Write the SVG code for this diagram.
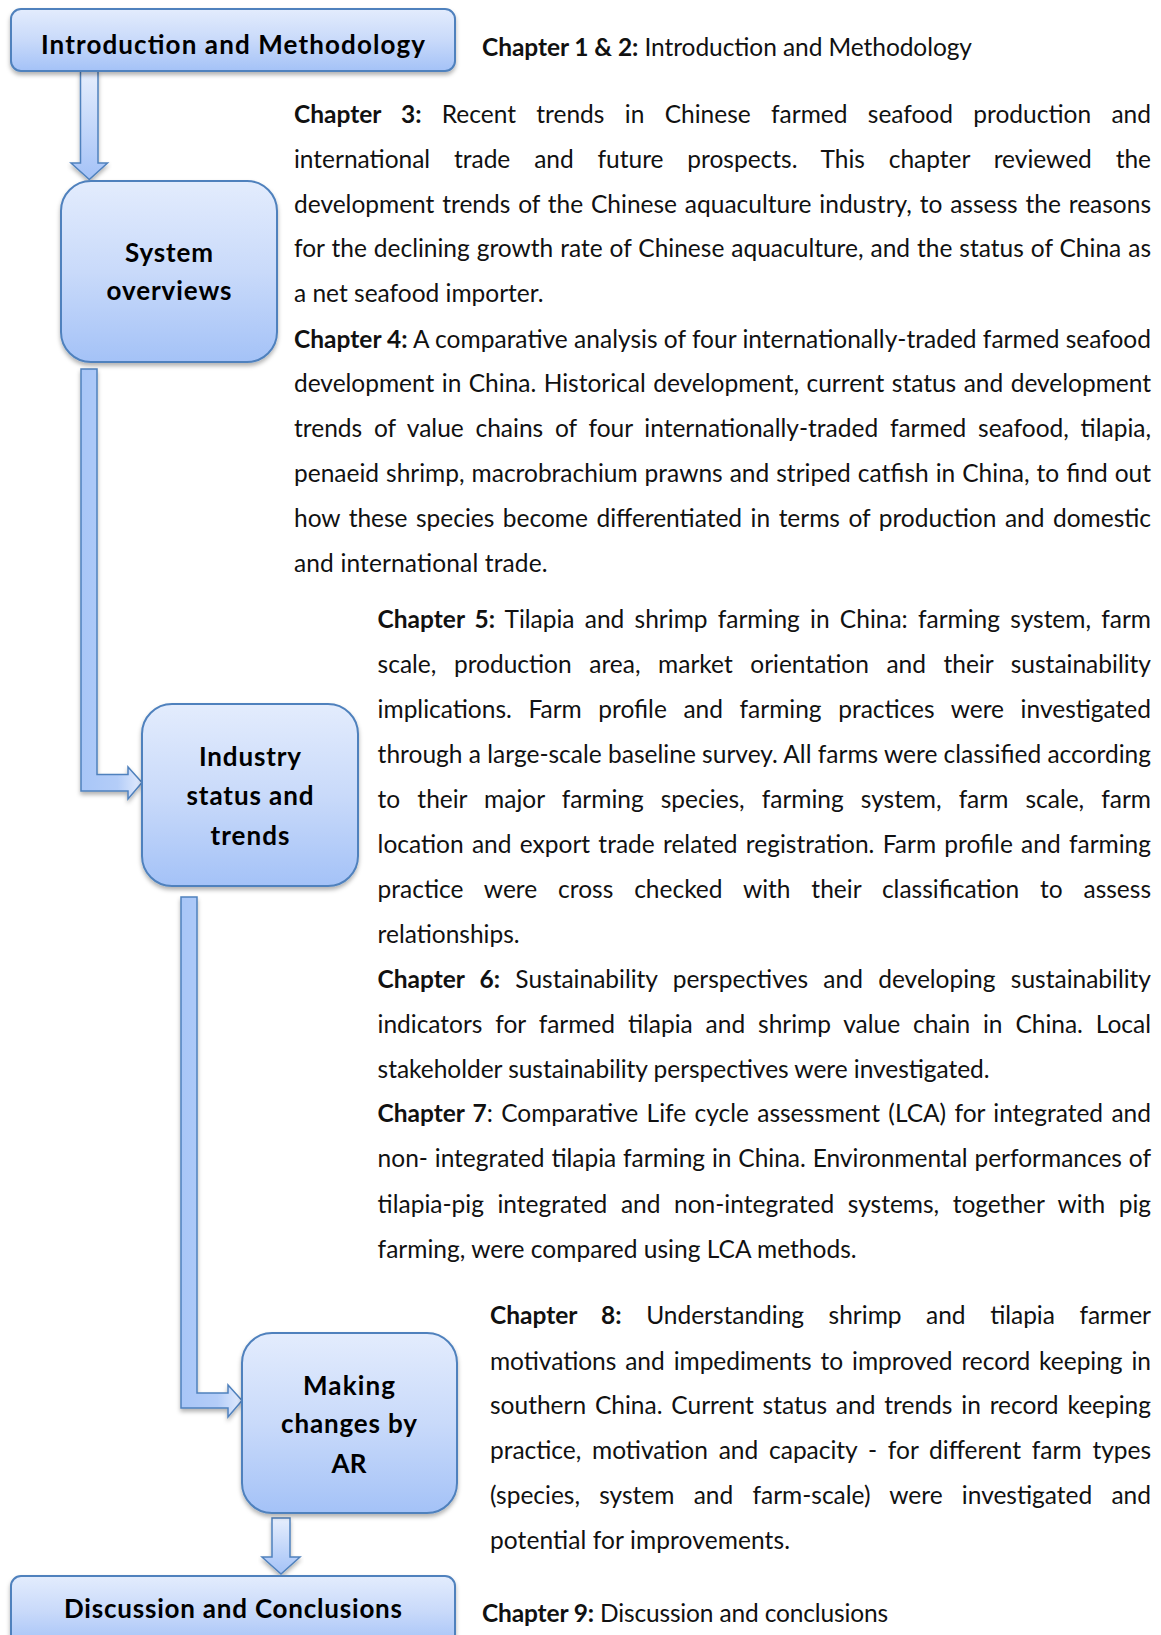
<svg xmlns="http://www.w3.org/2000/svg" width="1161" height="1635" viewBox="0 0 1161 1635">
<defs>
<linearGradient id="boxGrad" x1="0" y1="0" x2="0" y2="1">
<stop offset="0" stop-color="#e3ecfd"/>
<stop offset="0.5" stop-color="#c9dafa"/>
<stop offset="1" stop-color="#a4c2f7"/>
</linearGradient>
<linearGradient id="downGrad" x1="0" y1="0" x2="0" y2="1">
<stop offset="0" stop-color="#e6eefd"/>
<stop offset="1" stop-color="#a4c2f7"/>
</linearGradient>
<linearGradient id="elbowGrad" x1="0" y1="0" x2="1" y2="0">
<stop offset="0" stop-color="#a8c6f8"/>
<stop offset="0.6" stop-color="#b4cdf8"/>
<stop offset="1" stop-color="#e3ecfd"/>
</linearGradient>
<filter id="shadow" x="-10%" y="-10%" width="120%" height="130%">
<feDropShadow dx="0" dy="3" stdDeviation="2" flood-color="#000" flood-opacity="0.3"/>
</filter>
</defs>
<style>
.box{fill:url(#boxGrad);stroke:#4f81bd;stroke-width:2;filter:url(#shadow)}
.arrowD{fill:url(#downGrad);stroke:#4f81bd;stroke-width:1.5;stroke-linejoin:miter;filter:url(#shadow)}
.arrowE{fill:url(#elbowGrad);stroke:#4f81bd;stroke-width:1.5;stroke-linejoin:miter;filter:url(#shadow)}
.lbl{font-family:Lato,"Open Sans","Liberation Sans",sans-serif;font-weight:bold;font-size:26px;fill:#000;text-anchor:middle}
.body{font-family:Lato,"Open Sans","Liberation Sans",sans-serif;font-size:24.5px;fill:#111}
.b{font-weight:bold}
</style>
<g id="connectors">
<path class="arrowD" d="M80.5,71 H98 V163 H107.5 L89.3,179.5 L71,163 H80.5 Z"/>
<path class="arrowE" d="M81,369 H97 V774.5 H128 V767 L142,782.5 L128,799 V791 H81 Z"/>
<path class="arrowE" d="M181,897 H197 V1393 H228 V1385 L242,1400.5 L228,1417 V1408 H181 Z"/>
<path class="arrowD" d="M272,1518 H290 V1557 H300 L281,1574 L262,1557 H272 Z"/>
</g>
<g id="node-intro">
<rect class="box" x="11" y="9" width="444" height="62" rx="10"/>
<text class="lbl" x="233" y="54" textLength="384">Introduction and Methodology</text>
</g>
<g id="node-system">
<rect class="box" x="61" y="181" width="216" height="181" rx="30"/>
<text class="lbl" x="169" y="262" textLength="88">System</text>
<text class="lbl" x="169" y="300" textLength="125">overviews</text>
</g>
<g id="node-industry">
<rect class="box" x="142" y="704" width="216" height="182" rx="30"/>
<text class="lbl" x="250" y="766" textLength="102">Industry</text>
<text class="lbl" x="250" y="805" textLength="127">status and</text>
<text class="lbl" x="250" y="845" textLength="79">trends</text>
</g>
<g id="node-making">
<rect class="box" x="242" y="1333" width="215" height="180" rx="30"/>
<text class="lbl" x="349" y="1395" textLength="92">Making</text>
<text class="lbl" x="349" y="1433" textLength="136">changes by</text>
<text class="lbl" x="349" y="1473" textLength="35">AR</text>
</g>
<g id="node-discussion">
<rect class="box" x="11" y="1576" width="444" height="70" rx="10"/>
<text class="lbl" x="233" y="1618" textLength="338">Discussion and Conclusions</text>
</g>
<g id="chapter-texts">
<text class="body" x="482" y="56" textLength="490"><tspan class="b">Chapter 1 &amp; 2:</tspan> Introduction and Methodology</text>

<text class="body" x="294" y="123" word-spacing="14.1" textLength="857"><tspan class="b">Chapter 3:</tspan> Recent trends in Chinese farmed seafood production and</text>
<text class="body" x="294" y="167.5" word-spacing="17.6" textLength="857">international trade and future prospects. This chapter reviewed the</text>
<text class="body" x="294" y="212.5" word-spacing="1.6" textLength="857">development trends of the Chinese aquaculture industry, to assess the reasons</text>
<text class="body" x="294" y="257" word-spacing="0.7" textLength="857">for the declining growth rate of Chinese aquaculture, and the status of China as</text>
<text class="body" x="294" y="301.5" textLength="249.5">a net seafood importer.</text>

<text class="body" x="294" y="347.5" textLength="857"><tspan class="b">Chapter 4:</tspan> A comparative analysis of four internationally-traded farmed seafood</text>
<text class="body" x="294" y="392.3" word-spacing="1.2" textLength="857">development in China. Historical development, current status and development</text>
<text class="body" x="294" y="437" word-spacing="5.5" textLength="857">trends of value chains of four internationally-traded farmed seafood, tilapia,</text>
<text class="body" x="294" y="482" word-spacing="0.75" textLength="857">penaeid shrimp, macrobrachium prawns and striped catfish in China, to find out</text>
<text class="body" x="294" y="526.8" word-spacing="2.3" textLength="857">how these species become differentiated in terms of production and domestic</text>
<text class="body" x="294" y="571.6" textLength="253.6">and international trade.</text>

<text class="body" x="377.6" y="628" word-spacing="4" textLength="773.4"><tspan class="b">Chapter 5:</tspan> Tilapia and shrimp farming in China: farming system, farm</text>
<text class="body" x="377.6" y="672.8" word-spacing="11.3" textLength="773.4">scale, production area, market orientation and their sustainability</text>
<text class="body" x="377.6" y="717.7" word-spacing="10.3" textLength="773.4">implications. Farm profile and farming practices were investigated</text>
<text class="body" x="377.6" y="762.5" textLength="773.4">through a large-scale baseline survey. All farms were classified according</text>
<text class="body" x="377.6" y="808.4" word-spacing="10.9" textLength="773.4">to their major farming species, farming system, farm scale, farm</text>
<text class="body" x="377.6" y="853.3" word-spacing="2" textLength="773.4">location and export trade related registration. Farm profile and farming</text>
<text class="body" x="377.6" y="898.1" word-spacing="14.6" textLength="773.4">practice were cross checked with their classification to assess</text>
<text class="body" x="377.6" y="943" textLength="142">relationships.</text>

<text class="body" x="377.6" y="987.8" word-spacing="9.1" textLength="773.4"><tspan class="b">Chapter 6:</tspan> Sustainability perspectives and developing sustainability</text>
<text class="body" x="377.6" y="1032.7" word-spacing="6.7" textLength="773.4">indicators for farmed tilapia and shrimp value chain in China. Local</text>
<text class="body" x="377.6" y="1077.5" textLength="612">stakeholder sustainability perspectives were investigated.</text>

<text class="body" x="377.6" y="1122.4" word-spacing="2.1" textLength="773.4"><tspan class="b">Chapter 7</tspan>: Comparative Life cycle assessment (LCA) for integrated and</text>
<text class="body" x="377.6" y="1167.2" word-spacing="0.6" textLength="773.4">non- integrated tilapia farming in China. Environmental performances of</text>
<text class="body" x="377.6" y="1213.1" word-spacing="7.3" textLength="773.4">tilapia-pig integrated and non-integrated systems, together with pig</text>
<text class="body" x="377.6" y="1258" textLength="479">farming, were compared using LCA methods.</text>

<text class="body" x="490" y="1323.7" word-spacing="18.3" textLength="661"><tspan class="b">Chapter 8:</tspan> Understanding shrimp and tilapia farmer</text>
<text class="body" x="490" y="1369.6" word-spacing="2.7" textLength="661">motivations and impediments to improved record keeping in</text>
<text class="body" x="490" y="1414.4" word-spacing="2.6" textLength="661">southern China. Current status and trends in record keeping</text>
<text class="body" x="490" y="1459.3" word-spacing="4.6" textLength="661">practice, motivation and capacity - for different farm types</text>
<text class="body" x="490" y="1504.2" word-spacing="13" textLength="661">(species, system and farm-scale) were investigated and</text>
<text class="body" x="490" y="1549" textLength="300">potential for improvements.</text>

<text class="body" x="482" y="1622" textLength="406"><tspan class="b">Chapter 9:</tspan> Discussion and conclusions</text>
</g>
</svg>
